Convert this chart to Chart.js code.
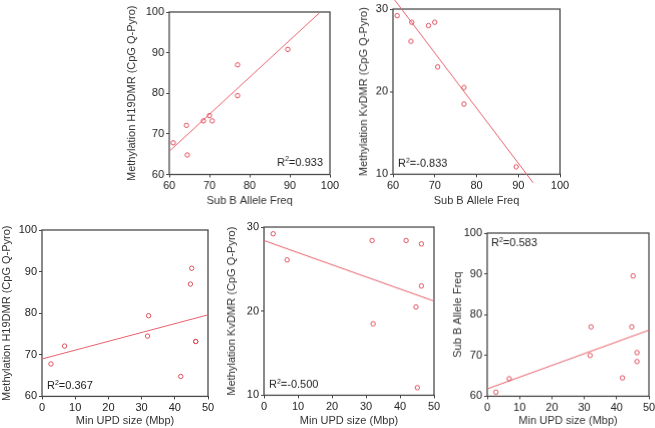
<!DOCTYPE html>
<html>
<head>
<meta charset="utf-8">
<script src="https://cdn.jsdelivr.net/npm/chart.js@4"></script>
<style>
html, body { margin: 0; padding: 0; background: #fff; }
body { width: 655px; height: 428px; position: relative; overflow: hidden; }
canvas { position: absolute; }
</style>
</head>
<body>
<script>
// Per-sample values (9 samples)
const minUpdSize     = [2.7, 6.8, 31.8, 32.1, 41.8, 44.7, 45.1, 46.3, 46.3];
const subBAlleleFreq = [61.0, 64.3, 70.0, 77.0, 64.5, 77.0, 89.5, 70.7, 68.5];
const h19Methylation = [67.8, 72.1, 74.5, 79.4, 64.8, 87.0, 90.8, 73.2, 73.2];
const kvMethylation  = [29.2, 26.1, 28.4, 18.5, 28.4, 20.5, 10.9, 23.0, 28.0];

// Fitted line end points as drawn
const trendH19SubBX = [60, 97.6];
const trendH19SubBY = [65.7, 100];
const trendKvSubBX = [60.4, 93.6];
const trendKvSubBY = [31.1, 8.95];
const trendH19UpdX = [0, 50];
const trendH19UpdY = [69.0, 79.6];
const trendKvUpdX = [0, 50];
const trendKvUpdY = [28.4, 21.2];
const trendSubBUpdX = [0, 50];
const trendSubBUpdY = [61.8, 76.2];

const r2Labels = ['0.933', '-0.833', '0.367', '-0.500', '0.583'];

const xTitleSubB = 'Sub B Allele Freq';
const xTitleUpd = 'Min UPD size (Mbp)';
const yTitleH19 = 'Methylation H19DMR (CpG Q-Pyro)';
const yTitleKv = 'Methylation KvDMR (CpG Q-Pyro)';

const FONT = "'Liberation Sans', Arial, Helvetica, sans-serif";
const POINT_RED = '#e0505e';
const LINE_RED = '#e8616b';

Chart.defaults.font.family = FONT;
Chart.defaults.font.size = 11;
Chart.defaults.color = '#222';

const zip = (xs, ys) => xs.map((x, i) => ({ x: x, y: ys[i] }));

// layout: plot box [left, top, right, bottom] in page pixels
const panels = [
    { box: [169.3, 11.7, 330, 175], yw: 48, xh: 37.5,
      xs: subBAlleleFreq, ys: h19Methylation, tx: trendH19SubBX, ty: trendH19SubBY,
      xr: [60, 100], yr: [60, 100], xTitle: xTitleSubB, yTitle: yTitleH19, r2: r2Labels[0], corner: 'br' },
    { box: [393.3, 9, 560.5, 174], yw: 40, xh: 37.6,
      xs: subBAlleleFreq, ys: kvMethylation, tx: trendKvSubBX, ty: trendKvSubBY,
      xr: [60, 100], yr: [10, 30], xTitle: xTitleSubB, yTitle: yTitleKv, r2: r2Labels[1], corner: 'bl', noClip: true },
    { box: [42.3, 230, 208.3, 396.7], yw: 46, xh: 35.6,
      xs: minUpdSize, ys: h19Methylation, tx: trendH19UpdX, ty: trendH19UpdY,
      xr: [0, 50], yr: [60, 100], xTitle: xTitleUpd, yTitle: yTitleH19, r2: r2Labels[2], corner: 'bl' },
    { box: [264.3, 227.3, 434.3, 395], yw: 43, xh: 36.6,
      xs: minUpdSize, ys: kvMethylation, tx: trendKvUpdX, ty: trendKvUpdY,
      xr: [0, 50], yr: [10, 30], xTitle: xTitleUpd, yTitle: yTitleKv, r2: r2Labels[3], corner: 'bl' },
    { box: [487.3, 233.3, 649, 396.7], yw: 40, xh: 35.6,
      xs: minUpdSize, ys: subBAlleleFreq, tx: trendSubBUpdX, ty: trendSubBUpdY,
      xr: [0, 50], yr: [60, 100], xTitle: xTitleUpd, yTitle: xTitleSubB, r2: r2Labels[4], corner: 'tl' }
];

const PAD_TOP = 10, PAD_RIGHT = 14;

// frame around the plot area plus the R² note
const framePlugin = {
    id: 'frame',
    beforeDatasetsDraw(chart) {
        const a = chart.chartArea, ctx = chart.ctx;
        ctx.save();
        ctx.strokeStyle = '#4a4a4a';
        ctx.lineWidth = 1.3;
        ctx.strokeRect(a.left, a.top, a.right - a.left, a.bottom - a.top);
        ctx.restore();
    },
    afterDatasetsDraw(chart, args, opts) {
        const a = chart.chartArea, ctx = chart.ctx;
        ctx.save();
        ctx.fillStyle = '#222';
        ctx.textBaseline = 'alphabetic';
        ctx.textAlign = 'left';
        const big = '11px ' + FONT, small = '7px ' + FONT;
        ctx.font = big;
        const wR = ctx.measureText('R').width;
        const rest = '=' + opts.text;
        const wRest = ctx.measureText(rest).width;
        ctx.font = small;
        const w2 = ctx.measureText('2').width;
        const total = wR + w2 + wRest;
        let x, y;
        if (opts.corner === 'br') { x = a.right - 7 - total; y = a.bottom - 9; }
        else if (opts.corner === 'tl') { x = a.left + 4; y = a.top + 13; }
        else { x = a.left + 5; y = a.bottom - 7; }
        ctx.font = big;
        ctx.fillText('R', x, y);
        ctx.font = small;
        ctx.fillText('2', x + wR, y - 4.5);
        ctx.font = big;
        ctx.fillText(rest, x + wR + w2, y);
        ctx.restore();
    }
};

panels.forEach(p => {
    const [l, t, r, b] = p.box;
    const canvas = document.createElement('canvas');
    const w = p.yw + (r - l) + PAD_RIGHT;
    const h = PAD_TOP + (b - t) + p.xh;
    canvas.width = w;
    canvas.height = h;
    canvas.style.width = w + 'px';
    canvas.style.height = h + 'px';
    canvas.style.left = (l - p.yw) + 'px';
    canvas.style.top = (t - PAD_TOP) + 'px';
    document.body.appendChild(canvas);

    const axisGrid = { display: true, drawOnChartArea: false, drawTicks: true, tickLength: 3, color: '#444' };

    new Chart(canvas, {
        type: 'scatter',
        data: {
            datasets: [
                {
                    data: zip(p.xs, p.ys),
                    pointRadius: 2.2,
                    pointBorderWidth: 1,
                    pointBackgroundColor: 'rgba(255,255,255,0)',
                    pointBorderColor: POINT_RED
                },
                {
                    type: 'line',
                    data: zip(p.tx, p.ty),
                    showLine: true,
                    borderColor: LINE_RED,
                    borderWidth: 1,
                    pointRadius: 0,
                    fill: false,
                    clip: p.noClip ? false : undefined
                }
            ]
        },
        options: {
            responsive: false,
            animation: false,
            layout: { padding: { top: PAD_TOP, right: PAD_RIGHT, left: 0, bottom: 0 } },
            plugins: {
                legend: { display: false },
                tooltip: { enabled: false },
                frame: { text: p.r2, corner: p.corner }
            },
            scales: {
                x: {
                    type: 'linear',
                    min: p.xr[0], max: p.xr[1],
                    grid: axisGrid,
                    border: { display: false },
                    ticks: { stepSize: 10, padding: 2, maxRotation: 0 },
                    title: { display: true, text: p.xTitle, color: '#333', font: { size: 11 } },
                    afterFit(scale) { scale.height = p.xh; }
                },
                y: {
                    type: 'linear',
                    min: p.yr[0], max: p.yr[1],
                    grid: axisGrid,
                    border: { display: false },
                    ticks: { stepSize: 10, padding: 2 },
                    title: { display: true, text: p.yTitle, color: '#333', font: { size: 11 } },
                    afterFit(scale) { scale.width = p.yw; }
                }
            }
        },
        plugins: [framePlugin]
    });
});
</script>
</body>
</html>
